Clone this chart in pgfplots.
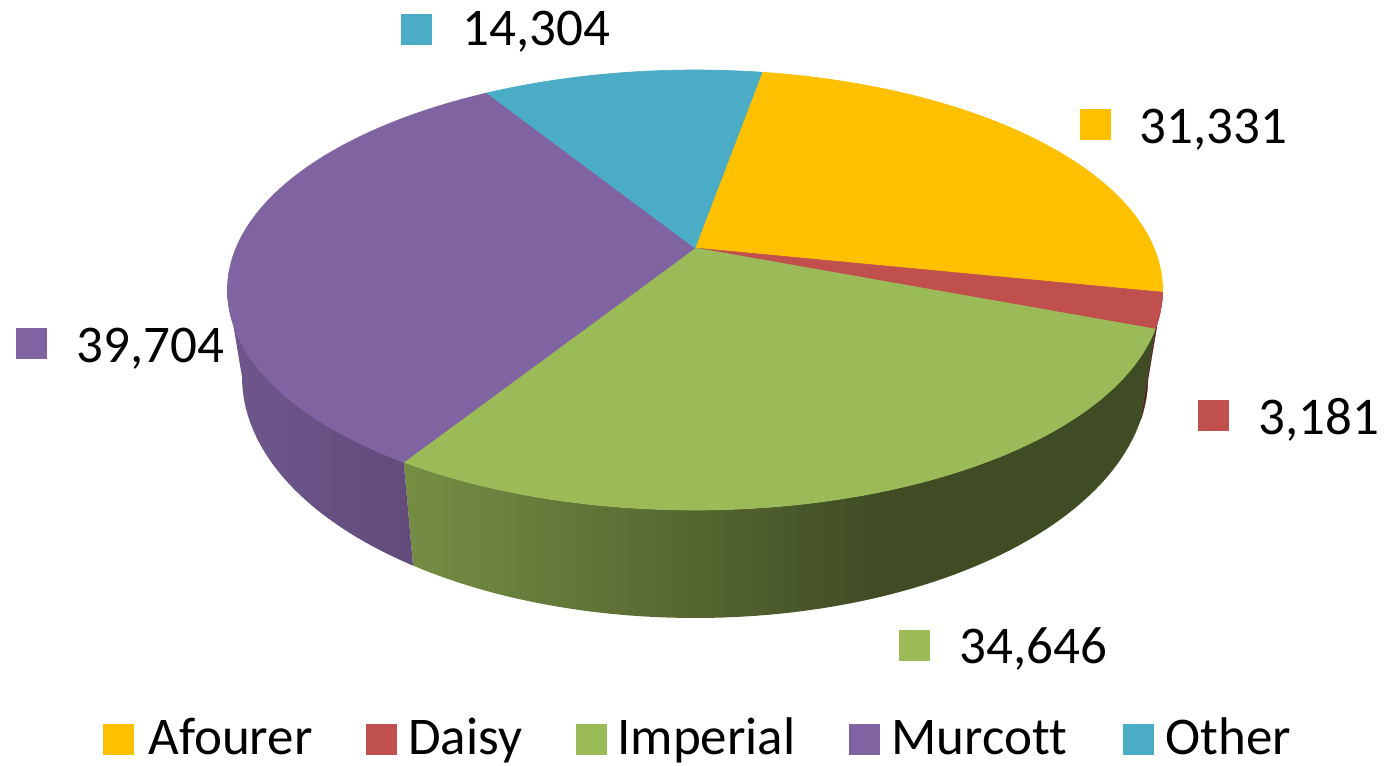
\documentclass[border=0pt]{standalone}
\usepackage{pgfplots}
\pgfplotsset{compat=1.18}
\usepackage{fontspec}
\setmainfont{Carlito}[Ligatures=NoCommon]

\definecolor{cAf}{HTML}{FFC000}
\definecolor{cDa}{HTML}{C0504D}
\definecolor{cIm}{HTML}{9BBB59}
\definecolor{cMu}{HTML}{8064A2}
\definecolor{cOt}{HTML}{4BACC6}
\colorlet{imL}{cIm!76!black}
\colorlet{imR}{cIm!41!black}
\colorlet{muL}{cMu!87!black}
\colorlet{muR}{cMu!76!black}
\colorlet{daS}{cDa!42!black}
\pgfdeclarehorizontalshading{impside}{100bp}{color(0bp)=(imL); color(25bp)=(imL); color(56.7bp)=(imR); color(100bp)=(imR)}

% ---- data (values of the chart) ----
\def\vAf{31331}
\def\vDa{3181}
\def\vIm{34646}
\def\vMu{39704}
\def\vOt{14304}
\edef\tot{\fpeval{\vAf+\vDa+\vIm+\vMu+\vOt}}
% cumulative angles, clockwise from 12 o'clock, first slice starts at 10 deg
\edef\aA{10}
\edef\aB{\fpeval{\aA+360*\vAf/\tot}}
\edef\aC{\fpeval{\aB+360*\vDa/\tot}}
\edef\aD{\fpeval{\aC+360*\vIm/\tot}}
\edef\aE{\fpeval{\aD+360*\vMu/\tot}}
\edef\aF{\fpeval{\aE+360*\vOt/\tot}}
\def\visR{101.0}
\def\visL{259.0}

% perspective projection of the top and bottom circles
\newcommand{\TX}[1]{695+459*sin(#1)/(1+0.1909*cos(#1))}
\newcommand{\TY}[1]{248-212*cos(#1)/(1+0.1909*cos(#1))}
\newcommand{\BX}[1]{695+444.7*sin(#1)/(1+0.19*cos(#1))}
\newcommand{\BY}[1]{331.2-232.3*cos(#1)/(1+0.19*cos(#1))}

\newcommand{\topslice}[3]{\fill[#1, draw=#1, line width=0.3pt] (axis cs:695,248) -- plot[domain=#2:#3, samples=90, variable=\t] ({\TX{\t}},{\TY{\t}}) -- cycle;}
\newcommand{\sideslice}[3]{\path[#1] plot[domain=#2:#3, samples=70, variable=\t] ({\TX{\t}},{\TY{\t}}) -- plot[domain=#3:#2, samples=70, variable=\t] ({\BX{\t}},{\BY{\t}}) -- cycle;}

\begin{document}
\begin{tikzpicture}[font=\fontsize{26.5}{31}\selectfont]
\begin{axis}[hide axis, scale only axis, width=697pt, height=383pt,
  xmin=0, xmax=1394, ymin=0, ymax=766, y dir=reverse, clip=false]
\path (axis cs:0,0) rectangle (axis cs:1394,766);
% sides
\sideslice{fill=daS, draw=daS, line width=0.2pt}{\aB}{\aC}
\sideslice{shade, shading=impside}{\aC}{\aD}
\sideslice{left color=muL, right color=muR}{\aD}{\visL}
% top face
\topslice{cAf}{\aA}{\aB}
\topslice{cDa}{\aB}{\aC}
\topslice{cIm}{\aC}{\aD}
\topslice{cMu}{\aD}{\aE}
\topslice{cOt}{\aE}{\aF}
% label and legend keys
\addplot[only marks, mark=square*, mark size=7.45pt, color=cAf, mark options={line width=0.1pt}] coordinates {(1095,124) (118,739)};
\addplot[only marks, mark=square*, mark size=7.45pt, color=cDa, mark options={line width=0.1pt}] coordinates {(1213,415) (381,739)};
\addplot[only marks, mark=square*, mark size=7.45pt, color=cIm, mark options={line width=0.1pt}] coordinates {(914,645) (591,739)};
\addplot[only marks, mark=square*, mark size=7.45pt, color=cMu, mark options={line width=0.1pt}] coordinates {(31,343) (864,739)};
\addplot[only marks, mark=square*, mark size=7.45pt, color=cOt, mark options={line width=0.1pt}] coordinates {(416,29) (1138,739)};
% value labels
\node[anchor=base west, inner sep=0pt] at (axis cs:1139,143) {31,331};
\node[anchor=base west, inner sep=0pt] at (axis cs:1258,434) {3,181};
\node[anchor=base west, inner sep=0pt] at (axis cs:959,663) {34,646};
\node[anchor=base west, inner sep=0pt] at (axis cs:76,362) {39,704};
\node[anchor=base west, inner sep=0pt] at (axis cs:462,45) {14,304};
% legend texts
\node[anchor=base west, inner sep=0pt] at (axis cs:148,754) {Afourer};
\node[anchor=base west, inner sep=0pt] at (axis cs:408,754) {Daisy};
\node[anchor=base west, inner sep=0pt] at (axis cs:617,754) {Imperial};
\node[anchor=base west, inner sep=0pt] at (axis cs:891,754) {Murcott};
\node[anchor=base west, inner sep=0pt] at (axis cs:1165,754) {Other};
\end{axis}
\end{tikzpicture}
\end{document}
